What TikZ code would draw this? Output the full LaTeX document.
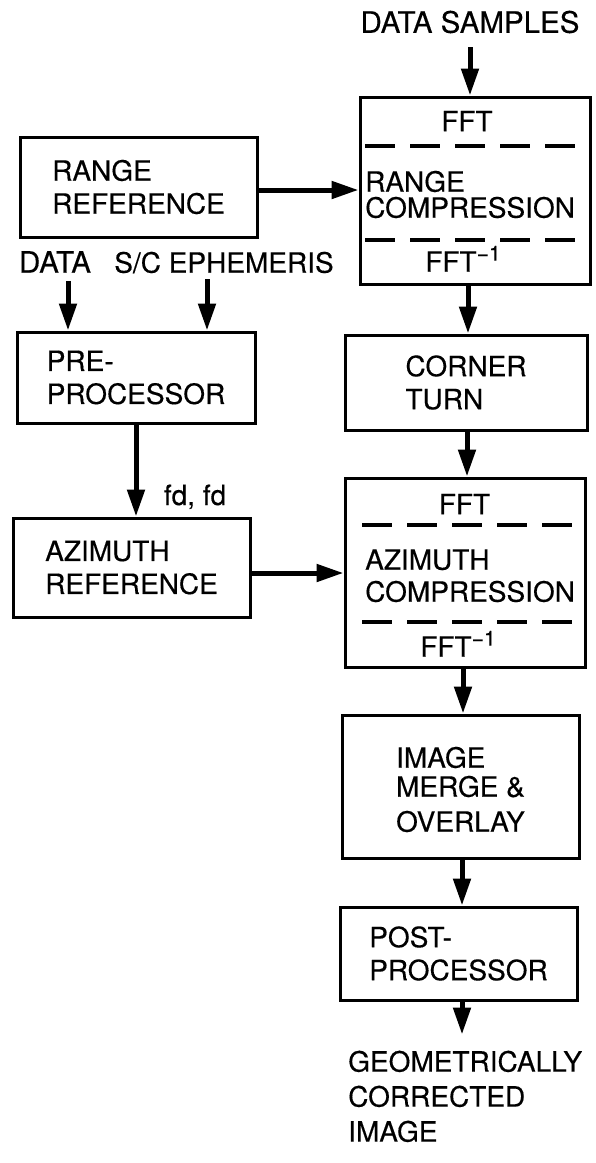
\documentclass[tikz,border=0pt]{standalone}
\usepackage{fontspec}
\setmainfont{TeX Gyre Heros}[FakeBold=0.35]
\usetikzlibrary{arrows.meta}
\newcommand{\fftinv}{FFT\raisebox{11pt}{\fontsize{21}{21}\selectfont −1}}
\begin{document}
\begin{tikzpicture}[x=1pt,y=-1pt,
  txt/.style={inner sep=0pt,font=\fontsize{28}{33}\selectfont},
  blk/.style={draw,line width=3pt,inner sep=0pt,align=left,
    font=\fontsize{28}{33}\selectfont},
  arr/.style={line width=5pt,-{Triangle[length=27pt,width=17pt]}},
  dsh/.style={line width=4pt,dash pattern=on 30pt off 15pt}]
\useasboundingbox (0,0) rectangle (596,1163);
% boxes
\node[blk,minimum width=237pt,minimum height=100pt] (rref) at (138.5,187) {RANGE\\REFERENCE};
\node[blk,minimum width=238pt,minimum height=91pt] (pre) at (136,377.5) {PRE-\\PROCESSOR};
\node[blk,minimum width=237pt,minimum height=99pt] (azref) at (131.5,567.5) {AZIMUTH\\REFERENCE};
\node[blk,minimum width=230pt,minimum height=187pt] (rcomp) at (475,190.5) {};
\node[blk,minimum width=242pt,minimum height=95pt] (corner) at (466,382.5) {CORNER\\TURN};
\node[blk,minimum width=240pt,minimum height=189pt] (azcomp) at (465,572.5) {};
\node[blk,minimum width=237pt,minimum height=143pt,font=\fontsize{28}{35}\selectfont] (merge) at (460.5,786.5) {\raisebox{-6pt}[\height][0pt]{IMAGE}\\MERGE \&\\OVERLAY};
\node[blk,minimum width=237pt,minimum height=93pt] (post) at (458.5,953.5) {POST-\\PROCESSOR};
% contents of compression boxes
\node[txt] (fft1) at (467,121) {FFT};
\node[txt,anchor=base west] (rc1) at (365,191.7) {RANGE};
\node[txt,anchor=base west] (rc2) at (365,217.7) {COMPRESSION};
\node[txt,anchor=base] (ifft1) at (463,271.7) {\fftinv};
\draw[dsh] (365,146) -- (575,146);
\draw[dsh] (365,240) -- (575,240);
\node[txt] (fft2) at (464.5,504) {FFT};
\node[txt,anchor=base west] (ac1) at (365,569.7) {AZIMUTH};
\node[txt,anchor=base west] (ac2) at (365,601.7) {COMPRESSION};
\node[txt,anchor=base] (ifft2) at (458,656.7) {\fftinv};
\draw[dsh] (362,525) -- (572,525);
\draw[dsh] (362,622) -- (572,622);
% labels
\node[txt,font=\fontsize{29.5}{33}\selectfont] (ds) at (470,22) {DATA SAMPLES};
\node[txt,anchor=base,font=\fontsize{29.5}{33}\selectfont] (data) at (55,272.7) {DATA};
\node[txt,anchor=base] (sce) at (224,272.7) {S/C EPHEMERIS};
\node[txt,anchor=base] (fd) at (195,505) {fd, fd};
\node[txt,anchor=north west,align=left,font=\fontsize{28}{35}\selectfont] (geo) at (348,1050.5) {GEOMETRICALLY\\CORRECTED\\IMAGE};
% connectors
\draw[arr] ([yshift=-14pt]ds.south) -- (ds.south |- rcomp.north);
\draw[arr] ([yshift=-3pt]rref.east) -- ([yshift=-3pt]rref.east -| rcomp.west);
\draw[arr] ([xshift=13pt,yshift=-8pt]data.south) -- ([xshift=13pt]data.south |- pre.north);
\draw[arr] ([xshift=-17pt,yshift=-6pt]sce.south) -- ([xshift=-17pt]sce.south |- pre.north);
\draw[arr] (pre.south) -- (pre.south |- azref.north);
\draw[arr] ([yshift=-5.5pt]azref.east) -- ([yshift=-5.5pt]azref.east -| azcomp.west);
\draw[arr] ([xshift=2pt]corner.north |- rcomp.south) -- ([xshift=2pt]corner.north);
\draw[arr] ([xshift=1pt]corner.south) -- ([xshift=1pt]corner.south |- azcomp.north);
\draw[arr] ([xshift=-2pt]azcomp.south) -- ([xshift=-2pt]azcomp.south |- merge.north);
\draw[arr] ([xshift=1.5pt]merge.south) -- ([xshift=1.5pt]merge.south |- post.north);
\draw[arr,shorten >=16pt] ([xshift=3.5pt]post.south) -- ([xshift=3.5pt]post.south |- geo.north);
\end{tikzpicture}
\end{document}
